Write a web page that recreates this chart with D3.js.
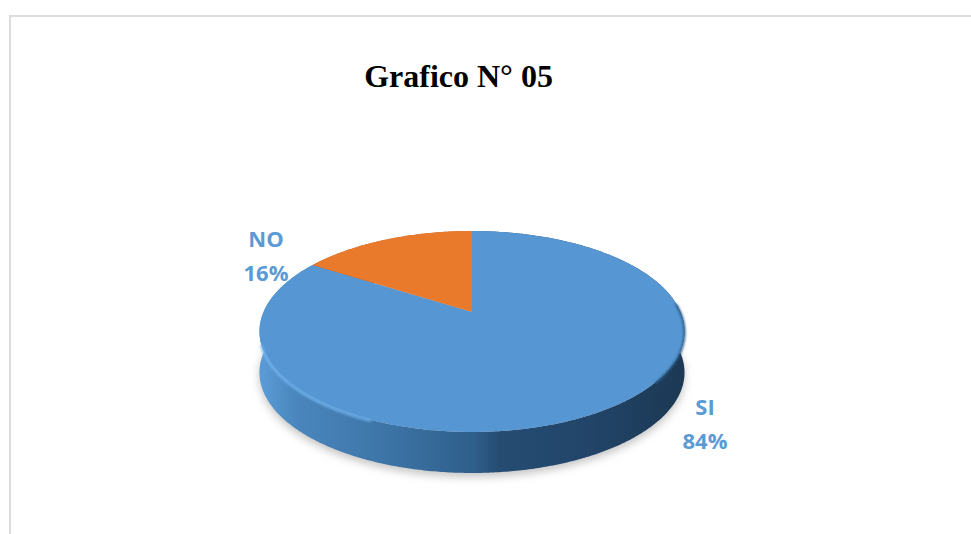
<!DOCTYPE html>
<html>
<head>
<meta charset="utf-8">
<style>
  html, body { margin: 0; padding: 0; background: #fff; }
  svg { display: block; }
</style>
<script src="https://cdnjs.cloudflare.com/ajax/libs/d3/7.8.5/d3.min.js"></script>
</head>
<body>
<script>
const categories = ["SI", "NO"];
const percentages = [84, 16];
const sliceColors = ["#5596d3", "#ea7a2b"];
const wallColors = ["url(#wallBlue)", "#b85f20"];
const chartTitle = "Grafico N° 05";

const width = 971, height = 534;
const svg = d3.select("body").append("svg").attr("width", width).attr("height", height);
const defs = svg.append("defs");

defs.append("filter").attr("id", "soft").attr("x", "-10%").attr("y", "-10%")
  .attr("width", "120%").attr("height", "120%")
  .append("feGaussianBlur").attr("stdDeviation", 4);
defs.append("filter").attr("id", "rim").attr("x", "-10%").attr("y", "-10%")
  .attr("width", "120%").attr("height", "120%")
  .append("feGaussianBlur").attr("stdDeviation", 1);

const wallGradient = defs.append("linearGradient").attr("id", "wallBlue")
  .attr("gradientUnits", "userSpaceOnUse")
  .attr("x1", 262).attr("x2", 685).attr("y1", 0).attr("y2", 0);
[[0, "#5a9bd6"], [0.08, "#4a86bd"], [0.3, "#3c74a6"], [0.5, "#2f5f8b"],
 [0.56, "#264c72"], [0.75, "#22466a"], [1, "#1c3854"]].forEach(([o, c]) =>
  wallGradient.append("stop").attr("offset", o).attr("stop-color", c));

// Card outline along the top and left edges
svg.append("path")
  .attr("d", "M10,534V16H971")
  .attr("fill", "none").attr("stroke", "#dcdcdc").attr("stroke-width", 2);

svg.append("text")
  .attr("x", 458.5).attr("y", 87)
  .attr("text-anchor", "middle")
  .attr("font-family", "'Liberation Serif', serif")
  .attr("font-weight", "bold").attr("font-size", 32)
  .attr("fill", "#000")
  .text(chartTitle);

// Tilted disc: a unit circle projected with a mild perspective,
// so the pie centre sits above the middle of the visible ellipse.
const apex = { x: 472, y: 312 };
const spreadX = 208.5, spreadY = 96.7, tilt = 0.194, wallDepth = 41;

function project(angle, drop = 0) {
  const u = Math.sin(angle), v = -Math.cos(angle);
  const s = 1 - tilt * v;
  return [apex.x + spreadX * u / s, apex.y + spreadY * v / s + drop];
}
function samples(a0, a1) {
  const n = Math.max(2, Math.ceil((a1 - a0) / 0.01));
  return d3.range(n + 1).map(i => a0 + (a1 - a0) * i / n);
}

const line = d3.line();
const slices = d3.pie().sort(null)(percentages);
const fullCircle = samples(0, 2 * Math.PI);

// Soft ground shadow under the disc
svg.append("path")
  .attr("d", line(fullCircle.map(a => project(a, wallDepth + 4))) + "Z")
  .attr("fill", "#c4c4c4")
  .attr("filter", "url(#soft)");

// Side walls, painted first so the top face covers their hidden parts
svg.append("g").selectAll("path").data(slices).join("path")
  .attr("d", d => {
    const angles = samples(d.startAngle, d.endAngle);
    const upper = angles.map(a => project(a));
    const lower = angles.slice().reverse().map(a => project(a, wallDepth));
    return line(upper.concat(lower)) + "Z";
  })
  .attr("fill", d => wallColors[d.index]);

// Top faces
svg.append("g").selectAll("path").data(slices).join("path")
  .attr("d", d => {
    const outer = samples(d.startAngle, d.endAngle).map(a => project(a));
    return line([[apex.x, apex.y]].concat(outer)) + "Z";
  })
  .attr("fill", d => sliceColors[d.index]);

// Bevel highlight on the front-left rim, dark bevel on the right rim
svg.append("path")
  .attr("d", line(samples(Math.PI * 1.13, Math.PI * 1.4).map(a => project(a, 1))))
  .attr("fill", "none").attr("stroke", "#74b5f2").attr("stroke-width", 2)
  .attr("filter", "url(#rim)");
svg.append("path")
  .attr("d", line(samples(Math.PI * 0.47, Math.PI * 0.72).map(a => project(a, 1))))
  .attr("fill", "none").attr("stroke", "#2c5a86").attr("stroke-width", 2)
  .attr("filter", "url(#rim)");

// Data labels: category above percentage
const labelAnchors = [{ x: 705, y: 415 }, { x: 266, y: 247 }];
const labels = svg.append("g")
  .attr("font-family", "'Open Sans', sans-serif")
  .attr("font-weight", "bold").attr("font-size", 22)
  .attr("fill", "#5b9bd5").attr("text-anchor", "middle");
categories.forEach((name, i) => {
  labels.append("text").attr("x", labelAnchors[i].x).attr("y", labelAnchors[i].y).text(name);
  labels.append("text").attr("x", labelAnchors[i].x).attr("y", labelAnchors[i].y + 34).text(percentages[i] + "%");
});
</script>
</body>
</html>
